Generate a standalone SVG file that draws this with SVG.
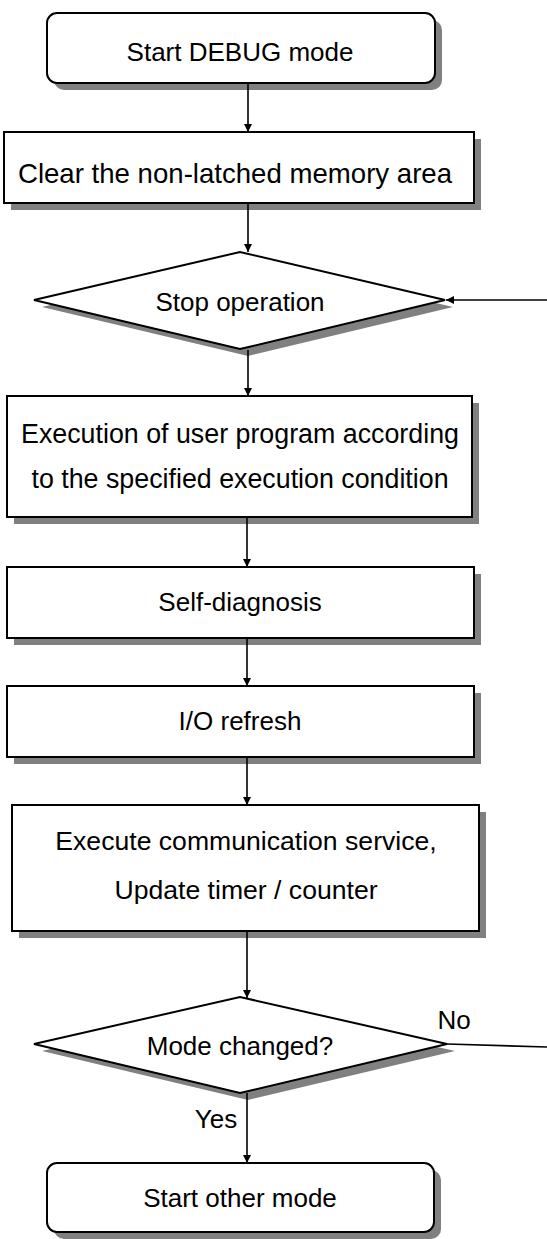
<svg xmlns="http://www.w3.org/2000/svg" width="547" height="1239" viewBox="0 0 547 1239">
<defs>
<style>
.shadow{fill:#808080;stroke:none}
.box{fill:#fff;stroke:#000;stroke-width:2}
.lbl{font-family:"Liberation Sans",Arial,sans-serif;font-size:26px;fill:#000;text-anchor:middle}
.conn{fill:none;stroke:#000;stroke-width:1.6}
</style>
<marker id="ah" viewBox="0 0 10 10" refX="10" refY="5" markerWidth="10" markerHeight="8" markerUnits="userSpaceOnUse" orient="auto">
<path d="M0,0 L10,5 L0,10 Z" fill="#000"/>
</marker>
</defs>
<rect width="547" height="1239" fill="#fff"/>
<g id="start">
<rect class="shadow" x="54" y="20" width="388" height="70" rx="10"/>
<rect class="box" x="47" y="13" width="388" height="70" rx="10"/>
<text class="lbl" x="240" y="61">Start DEBUG mode</text>
</g>
<g id="clear">
<rect class="shadow" x="11" y="139" width="470" height="71"/>
<rect class="box" x="4" y="132" width="470" height="71"/>
<text class="lbl" x="235" y="183" style="font-size:27.6px">Clear the non-latched memory area</text>
</g>
<g id="stop">
<polygon class="shadow" points="42,307 248,259 453,307 248,356"/>
<polygon class="box" points="34,300 240,252 445,300 240,349"/>
<text class="lbl" x="240" y="311">Stop operation</text>
</g>
<g id="exec">
<rect class="shadow" x="14" y="403" width="465" height="121"/>
<rect class="box" x="7" y="396" width="465" height="121"/>
<text class="lbl" x="240" y="443" style="font-size:26.8px">Execution of user program according</text>
<text class="lbl" x="240" y="488" style="font-size:26.8px">to the specified execution condition</text>
</g>
<g id="diag">
<rect class="shadow" x="14" y="574" width="467" height="71"/>
<rect class="box" x="7" y="567" width="467" height="71"/>
<text class="lbl" x="240" y="611">Self-diagnosis</text>
</g>
<g id="io">
<rect class="shadow" x="14" y="693" width="467" height="71"/>
<rect class="box" x="7" y="686" width="467" height="71"/>
<text class="lbl" x="240" y="730">I/O refresh</text>
</g>
<g id="comm">
<rect class="shadow" x="19" y="812" width="467" height="126"/>
<rect class="box" x="12" y="805" width="467" height="126"/>
<text class="lbl" x="246" y="850" style="font-size:26.6px">Execute communication service,</text>
<text class="lbl" x="246" y="899" style="font-size:26.6px">Update timer / counter</text>
</g>
<g id="mode">
<polygon class="shadow" points="42,1051 248,1004 455,1051 248,1100"/>
<polygon class="box" points="34,1044 240,997 447,1044 240,1093"/>
<text class="lbl" x="240" y="1055">Mode changed?</text>
</g>
<g id="other">
<rect class="shadow" x="54" y="1170" width="387" height="69" rx="10"/>
<rect class="box" x="47" y="1163" width="387" height="69" rx="10"/>
<text class="lbl" x="240" y="1207">Start other mode</text>
</g>
<g id="connectors">
<line class="conn" x1="248" y1="83" x2="248" y2="132" marker-end="url(#ah)"/>
<line class="conn" x1="248" y1="203" x2="248" y2="252" marker-end="url(#ah)"/>
<line class="conn" x1="248" y1="350" x2="248" y2="396" marker-end="url(#ah)"/>
<line class="conn" x1="247" y1="517" x2="247" y2="567" marker-end="url(#ah)"/>
<line class="conn" x1="247" y1="638" x2="247" y2="686" marker-end="url(#ah)"/>
<line class="conn" x1="247" y1="757" x2="247" y2="805" marker-end="url(#ah)"/>
<line class="conn" x1="247" y1="931" x2="247" y2="998" marker-end="url(#ah)"/>
<line class="conn" x1="247" y1="1093" x2="247" y2="1163" marker-end="url(#ah)"/>
<line class="conn" x1="547" y1="300" x2="446" y2="300" marker-end="url(#ah)"/>
<line class="conn" x1="447" y1="1044" x2="547" y2="1047"/>
<text class="lbl" x="454" y="1029">No</text>
<text class="lbl" x="216" y="1128">Yes</text>
</g>
</svg>
